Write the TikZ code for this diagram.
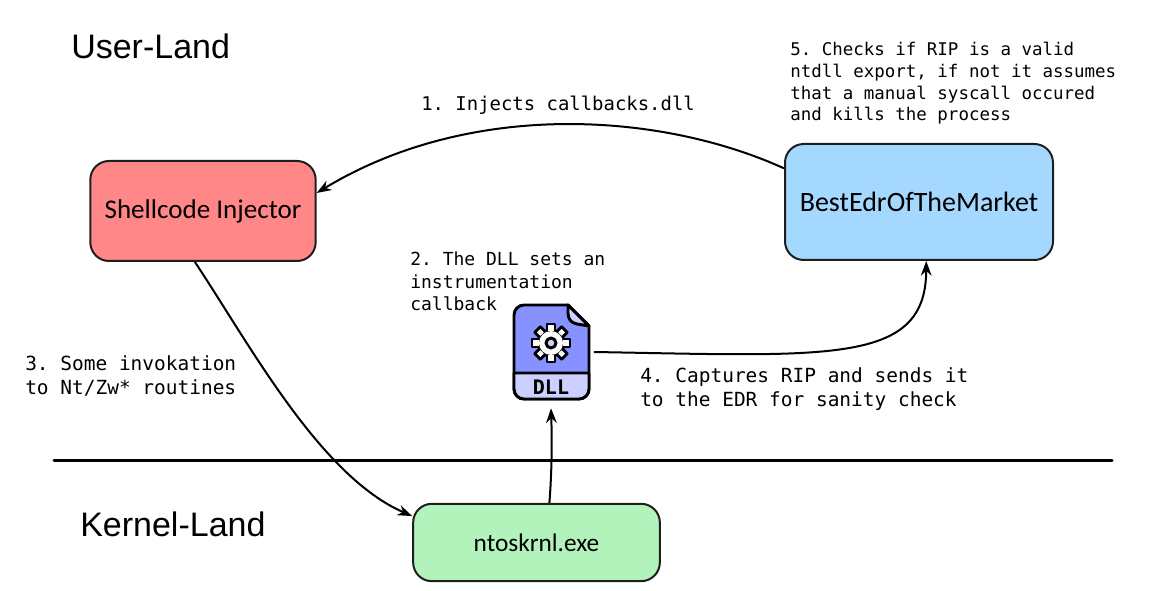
\documentclass[tikz,border=0pt]{standalone}
\usepackage{fontspec}
\setmainfont{Liberation Sans}
\setmonofont{DejaVu Sans Mono}
\newfontfamily\handfont{Carlito}
\usetikzlibrary{arrows.meta}
\definecolor{inkdark}{HTML}{1E1E1E}
\definecolor{boxred}{HTML}{FF8787}
\definecolor{boxblue}{HTML}{A5D8FF}
\definecolor{boxgreen}{HTML}{B2F2BB}
\definecolor{dllblue}{HTML}{8791FF}
\definecolor{dlllight}{HTML}{CCD0FF}
\tikzset{
    box/.style={draw=inkdark, line width=1.5pt, rounded corners=14pt, align=center, inner sep=0pt, font=\handfont\fontsize{19}{22}\selectfont},
    conn/.style={draw=black, line width=1.5pt, -{Stealth[length=11pt,width=8pt]}},
    note/.style={anchor=north west, inner sep=0pt, align=left},
    title/.style={anchor=base west, inner sep=0pt, font=\fontsize{25.5}{30}\selectfont},
    icon/.style={draw=black, line width=2.2pt, line join=round},
}

\begin{document}
\begin{tikzpicture}[x=0.75pt, y=-0.75pt]
    \useasboundingbox (0,0) rectangle (1154,591);

    \node[title] (userland) at (71,59) {User-Land};
    \node[title] (kernelland) at (80,537) {Kernel-Land};

    \node[box, fill=boxred, minimum width=169pt, minimum height=75pt, font=\handfont\fontsize{20.3}{22}\selectfont] (shell) at (203,211) {Shellcode Injector};
    \node[box, fill=boxblue, minimum width=201pt, minimum height=87pt, font=\handfont\fontsize{21}{22}\selectfont] (best) at (919,202) {BestEdrOfTheMarket};
    \node[box, fill=boxgreen, minimum width=185pt, minimum height=58pt] (nto) at (536.5,542.5) {ntoskrnl.exe};
    \node[minimum width=64pt, minimum height=84pt, inner sep=0pt] (dll) at (551,352) {};

    % dll icon
    \draw[icon, fill=dllblue] (524,305) -- (568,305) -- (589,326) -- (589,389) arc[start angle=0, end angle=90, radius=10] -- (524,399) arc[start angle=90, end angle=180, radius=10] -- (514,315) arc[start angle=180, end angle=270, radius=10] -- cycle;
    \draw[icon, fill=dlllight] (514,373) -- (589,373) -- (589,389) arc[start angle=0, end angle=90, radius=10] -- (524,399) arc[start angle=90, end angle=180, radius=10] -- cycle;
    \draw[icon, fill=dlllight] (568,305) -- (589,326) -- (577,324) .. controls (571,323) and (568,319) .. (568,313) -- cycle;
    \draw[icon, fill=white] (551,343) circle[radius=13];
    \foreach \a in {0,45,...,315}
        \draw[icon, fill=white, rotate around={\a:(551,343)}] (547,332) rectangle (555,324);
    \fill[white] (551,343) circle[radius=12];
    \draw[icon, fill=dlllight] (551,343) circle[radius=5];
    \node[inner sep=0pt, font=\ttfamily\bfseries\fontsize{15}{15}\selectfont] (dlllabel) at (551,387) {DLL};

    \draw[line width=2.25pt, line cap=round] (54,461) coordinate (sepleft) -- (1112,461) coordinate (sepright);

    \draw[conn] (best.166) .. controls (660,112) and (470,100) .. (shell.9.5);
    \draw[conn] (shell.261) .. controls (250,345) and (320,476) .. (nto.168);
    \draw[conn] (nto.72) .. controls (552,470) and (552,440) .. (dll.south);
    \draw[conn] (dll.east) .. controls (830,356) and (926,365) .. (best.277);

    \node[note, font=\ttfamily\fontsize{14.2}{17}\selectfont] (lblone) at (421,96) {1. Injects callbacks.dll};
    \node[note, font=\ttfamily\fontsize{13.5}{16.8}\selectfont] (lbltwo) at (410,252) {2. The DLL sets an\\instrumentation\\callback};
    \node[note, font=\ttfamily\fontsize{14.6}{18}\selectfont] (lblthree) at (25,355) {3. Some invokation\\to Nt/Zw* routines};
    \node[note, font=\ttfamily\fontsize{14.6}{18}\selectfont] (lblfour) at (640,367) {4. Captures RIP and sends it\\to the EDR for sanity check};
    \node[note, font=\ttfamily\fontsize{13.1}{16.3}\selectfont] (lblfive) at (790,42) {5. Checks if RIP is a valid\\ntdll export, if not it assumes\\that a manual syscall occured\\and kills the process};
\end{tikzpicture}
\end{document}
